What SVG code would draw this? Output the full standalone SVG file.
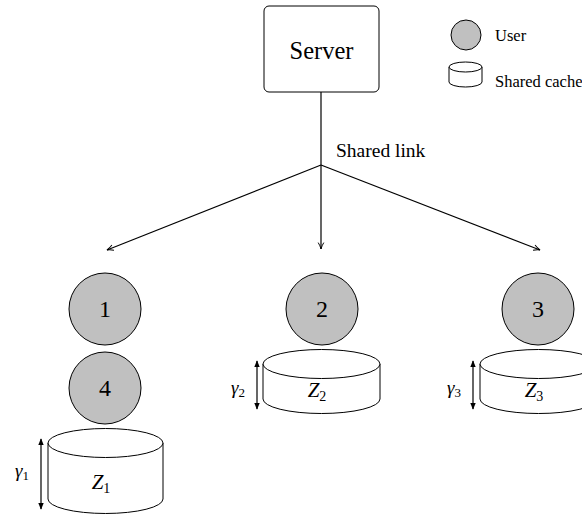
<svg xmlns="http://www.w3.org/2000/svg" width="582" height="514" viewBox="0 0 582 514" font-family="'Liberation Serif','Times New Roman',serif">
<style>
text{font-family:"Liberation Serif","Times New Roman",serif;fill:#000}
.user{fill:#c0c0c0;stroke:#000;stroke-width:1}
.cyl{fill:#fff;stroke:#000;stroke-width:1}
.conn{stroke:#000;stroke-width:1.2;fill:none}
.dim{stroke:#000;stroke-width:1.2;fill:none}
</style>
<defs>
<marker id="open" viewBox="0 0 10 10" refX="9" refY="5" markerWidth="8" markerHeight="8" orient="auto" markerUnits="userSpaceOnUse">
<path d="M1,1.5 Q5,4 9,5 Q5,6 1,8.5" fill="none" stroke="#000" stroke-width="1.2"/>
</marker>
<marker id="tri" viewBox="0 0 10 10" refX="9" refY="5" markerWidth="7" markerHeight="7" orient="auto-start-reverse" markerUnits="userSpaceOnUse">
<path d="M0,1 L10,5 L0,9 Z" fill="#000"/>
</marker>
</defs>

<g id="server">
<rect x="264" y="6" width="115" height="86" rx="5" fill="#fff" stroke="#000" stroke-width="1"/>
<text x="321.5" y="59" font-size="24.5" text-anchor="middle">Server</text>
</g>

<g id="legend">
<circle class="user" cx="466" cy="35" r="15"/>
<text x="495" y="41" font-size="16.5">User</text>
<path class="cyl" d="M449,67 L449,82 A16.5,5 0 0 0 482,82 L482,67"/>
<ellipse class="cyl" cx="465.5" cy="67" rx="16.5" ry="5"/>
<text x="495" y="87" font-size="16.5">Shared cache</text>
</g>

<g id="connectors">
<line class="conn" x1="321" y1="92" x2="321" y2="165"/>
<line class="conn" x1="321" y1="165" x2="107" y2="250" marker-end="url(#open)"/>
<line class="conn" x1="321" y1="165" x2="321" y2="249" marker-end="url(#open)"/>
<line class="conn" x1="321" y1="165" x2="540" y2="250" marker-end="url(#open)"/>
<text x="336" y="157" font-size="19.5">Shared link</text>
</g>

<g id="user1">
<circle class="user" cx="105" cy="309" r="36"/>
<text x="105" y="317" font-size="24" text-anchor="middle">1</text>
</g>
<g id="user4">
<circle class="user" cx="105" cy="388" r="36"/>
<text x="105" y="396" font-size="24" text-anchor="middle">4</text>
</g>
<g id="user2">
<circle class="user" cx="322" cy="309" r="36"/>
<text x="322" y="317" font-size="24" text-anchor="middle">2</text>
</g>
<g id="user3">
<circle class="user" cx="538" cy="309" r="36"/>
<text x="538" y="317" font-size="24" text-anchor="middle">3</text>
</g>

<g id="cache1">
<path class="cyl" d="M48,443 L48,499 A57.5,14.5 0 0 0 163,499 L163,443"/>
<ellipse class="cyl" cx="105.5" cy="443" rx="57.5" ry="14.5"/>
<text x="101" y="489" font-size="21" text-anchor="middle"><tspan font-style="italic">Z</tspan><tspan font-size="14" dy="4">1</tspan></text>
<line class="dim" x1="41" y1="439" x2="41" y2="509" marker-start="url(#tri)" marker-end="url(#tri)"/>
<text x="22" y="477" font-size="19" text-anchor="middle"><tspan font-style="italic">γ</tspan><tspan font-size="13" dy="3">1</tspan></text>
</g>

<g id="cache2">
<path class="cyl" d="M263,364 L263,399 A58.5,14.5 0 0 0 380,399 L380,364"/>
<ellipse class="cyl" cx="321.5" cy="364" rx="58.5" ry="14.5"/>
<text x="317" y="397" font-size="21" text-anchor="middle"><tspan font-style="italic">Z</tspan><tspan font-size="14" dy="4">2</tspan></text>
<line class="dim" x1="257" y1="361" x2="257" y2="409" marker-start="url(#tri)" marker-end="url(#tri)"/>
<text x="238" y="394" font-size="19" text-anchor="middle"><tspan font-style="italic">γ</tspan><tspan font-size="13" dy="3">2</tspan></text>
</g>

<g id="cache3">
<path class="cyl" d="M480,364 L480,399 A58.5,14.5 0 0 0 597,399 L597,364"/>
<ellipse class="cyl" cx="538.5" cy="364" rx="58.5" ry="14.5"/>
<text x="534" y="397" font-size="21" text-anchor="middle"><tspan font-style="italic">Z</tspan><tspan font-size="14" dy="4">3</tspan></text>
<line class="dim" x1="473" y1="361" x2="473" y2="409" marker-start="url(#tri)" marker-end="url(#tri)"/>
<text x="454" y="394" font-size="19" text-anchor="middle"><tspan font-style="italic">γ</tspan><tspan font-size="13" dy="3">3</tspan></text>
</g>
</svg>
